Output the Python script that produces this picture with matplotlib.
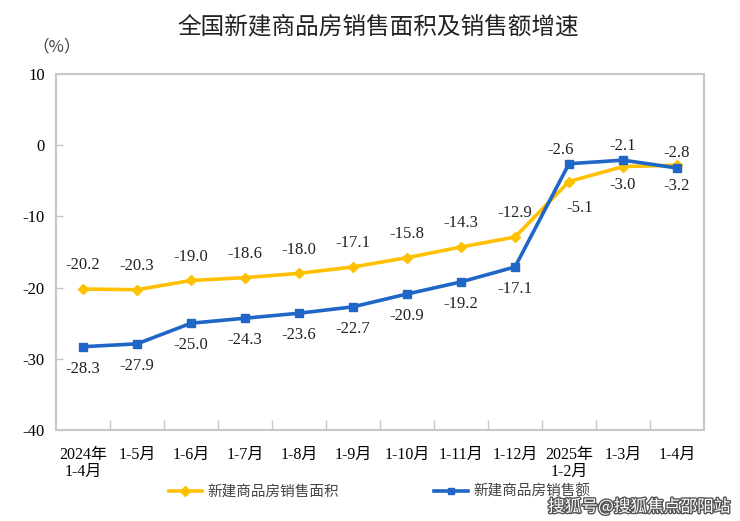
import matplotlib
matplotlib.use("Agg")
import matplotlib.pyplot as plt
import matplotlib.patheffects as pe

categories = ["2024年\n1-4月", "1-5月", "1-6月", "1-7月", "1-8月", "1-9月", "1-10月",
              "1-11月", "1-12月", "2025年\n1-2月", "1-3月", "1-4月"]
area_growth = [-20.2, -20.3, -19.0, -18.6, -18.0, -17.1, -15.8, -14.3, -12.9, -5.1, -3.0, -2.8]
sales_growth = [-28.3, -27.9, -25.0, -24.3, -23.6, -22.7, -20.9, -19.2, -17.1, -2.6, -2.1, -3.2]
series_names = ["新建商品房销售面积", "新建商品房销售额"]
yticks = [10, 0, -10, -20, -30, -40]

YELLOW = "#FFC000"
BLUE = "#1F66C6"
GRAY = "#C8C8C8"
SERIF = ["Liberation Serif", "Noto Sans CJK SC"]
CJK = ["Noto Sans CJK SC", "DejaVu Sans"]

fig = plt.figure(figsize=(7.4, 5.21), dpi=100)
ax = fig.add_axes([56/740, 1-430/521, (704-56)/740, (430-74)/521])

x = list(range(len(categories)))
ax.plot(x, area_growth, color=YELLOW, lw=2.6, marker="D", ms=5.5, mec=YELLOW, mfc=YELLOW,
        label=series_names[0], zorder=3)
ax.plot(x, sales_growth, color=BLUE, lw=2.6, marker="s", ms=5.5, mec=BLUE, mfc=BLUE,
        label=series_names[1], zorder=4)

ax.set_xlim(-0.5, len(categories) - 0.5)
ax.set_ylim(-40, 10)
ax.set_yticks(yticks)
ax.set_yticklabels([str(v) for v in yticks], fontfamily=SERIF, fontsize=12)
ax.set_xticks([i + 0.5 for i in range(len(categories) - 1)])
ax.set_xticklabels([])
ax.set_xticks(x, minor=True)
ax.set_xticklabels(categories, minor=True, fontfamily=SERIF, fontsize=11.5, linespacing=1.1)
ax.tick_params(axis="x", which="major", direction="in", length=7, color=GRAY, width=1)
ax.tick_params(axis="x", which="minor", length=0, pad=12)
ax.tick_params(axis="y", direction="in", length=5, color=GRAY, width=1, pad=8)
for s in ax.spines.values():
    s.set_color(GRAY)
    s.set_linewidth(1.5)

# data labels (offsets in points)
area_off = [(0, 17)] * 9 + [(8, -19), (0, -13), (0, 9)]
sales_off = [(0, -16)] * 9 + [(-6, 10), (0, 10), (0, -13)]
for i, v in enumerate(area_growth):
    ax.annotate(f"{v:.1f}", (i, v), xytext=area_off[i], textcoords="offset points",
                ha="center", va="center", fontfamily=SERIF, fontsize=12, color="#222222")
for i, v in enumerate(sales_growth):
    ax.annotate(f"{v:.1f}", (i, v), xytext=sales_off[i], textcoords="offset points",
                ha="center", va="center", fontfamily=SERIF, fontsize=12, color="#222222")

fig.text(378/740, 1-27/521, "全国新建商品房销售面积及销售额增速", ha="center", va="center",
         fontfamily=CJK, fontsize=17, fontweight="medium", color="#222222")
fig.text(57/740, 1-47/521, "（%）", ha="center", va="center", fontfamily=CJK,
         fontsize=12, color="#444444")

leg = fig.legend(loc="center", bbox_to_anchor=(0.513, 1-492/521), ncol=2, frameon=False,
                 prop={"family": CJK, "size": 10.5}, handlelength=2.3, columnspacing=6.5,
                 handletextpad=0.4, markerscale=0.9)
for t in leg.get_texts():
    t.set_color("#444444")

fig.text(730/740, 1-507/521, "搜狐号@搜狐焦点邵阳站", ha="right", va="center",
         fontfamily=CJK, fontsize=12, color="white",
         path_effects=[pe.withStroke(linewidth=2, foreground="#555555")])

fig.savefig("out.png", dpi=100, facecolor="white")
